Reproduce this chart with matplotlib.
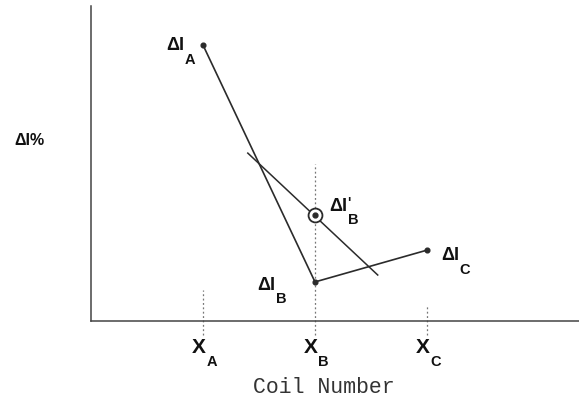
import matplotlib
matplotlib.use("Agg")
import matplotlib.pyplot as plt

# Coil positions and measured current deviation (ΔI %)
coil_pos = [1.0, 2.0, 3.0]
coil_names = ["A", "B", "C"]
delta_i = [8.76, 1.24, 2.25]

# Corrected value at coil B and the construction line through it
b_prime = (2.0, 3.37)
constr_x = [1.40, 2.56]
constr_y = [5.33, 1.46]

# Extent of the guide lines above each coil tick
guide_top = [1.0, 5.0, 0.5]
guide_bottom = -0.45

INK = "#2b2b2b"
TEXT_INK = "#111111"
LABEL_FONT = ["Liberation Sans", "DejaVu Sans"]
PX = 0.72  # points per pixel at 100 dpi

fig = plt.figure(figsize=(5.79, 4.05), dpi=100)
ax = fig.add_axes([91 / 579, 84 / 405, 488 / 579, 315 / 405])
ax.set_xlim(0.0, 4.357)
ax.set_ylim(0.0, 10.0)

for side in ("top", "right"):
    ax.spines[side].set_visible(False)
for side in ("left", "bottom"):
    ax.spines[side].set_color("#444444")
    ax.spines[side].set_linewidth(1.1)
ax.set_xticks([])
ax.set_yticks([])

# dotted guides at each coil
for x, top in zip(coil_pos, guide_top):
    ax.plot([x, x], [guide_bottom, top], color="#777777", lw=0.9,
            ls=(0, (1.5, 2.0)), clip_on=False, zorder=1)

# A-B-C polyline
ax.plot(coil_pos, delta_i, color=INK, lw=1.2, zorder=3)
ax.plot(coil_pos, delta_i, "o", color=INK, ms=3.4, zorder=4)

# construction line and corrected point
ax.plot(constr_x, constr_y, color=INK, lw=1.1, zorder=3)
ax.plot(*b_prime, "o", ms=10, mfc="white", mec=INK, mew=1.3, zorder=5)
ax.plot(*b_prime, "o", ms=3.5, color=INK, zorder=6)


def label(xy, main, sub, main_off, size=13, subsize=10.5, prime=False):
    """Bold 'main' text at a pixel offset from xy, with a subscript after it."""
    t = ax.annotate(main, xy=xy, xytext=(main_off[0] * PX, main_off[1] * PX),
                    textcoords="offset points", ha="left", va="baseline",
                    fontsize=size, fontweight="bold", family=LABEL_FONT,
                    color=TEXT_INK, annotation_clip=False)
    ax.annotate(sub, xy=(1, 0), xycoords=t, xytext=(0.5 * PX, 1.5 * PX),
                textcoords="offset points", ha="left", va="top",
                fontsize=subsize, fontweight="bold", family=LABEL_FONT,
                color=TEXT_INK, annotation_clip=False)
    if prime:
        ax.annotate("'", xy=(1, 1), xycoords=t, xytext=(0.5 * PX, 2 * PX),
                    textcoords="offset points", ha="left", va="top",
                    fontsize=10, fontweight="bold", family=LABEL_FONT,
                    color=TEXT_INK, annotation_clip=False)


# point labels (offsets in pixels: right, up)
label((coil_pos[0], delta_i[0]), "ΔI", coil_names[0], (-37, -5))
label((coil_pos[1], delta_i[1]), "ΔI", coil_names[1], (-58, -8))
label((coil_pos[2], delta_i[2]), "ΔI", coil_names[2], (14, -10))
label(b_prime, "ΔI", coil_names[1], (14, 4), prime=True)

# coil tick labels
for x, name in zip(coil_pos, coil_names):
    label((x, 0.0), "X", name, (-11, -32), size=15, subsize=10.5)

fig.text(14 / 579, 260 / 405, "ΔI%", ha="left", va="baseline",
         fontsize=11.5, fontweight="bold", family=LABEL_FONT, color=TEXT_INK)
fig.text(324 / 579, 12 / 405, "Coil Number", ha="center", va="baseline",
         fontsize=15.5, family=["Liberation Mono", "DejaVu Sans Mono"],
         color="#333333")

fig.savefig("out.png", dpi=100)
